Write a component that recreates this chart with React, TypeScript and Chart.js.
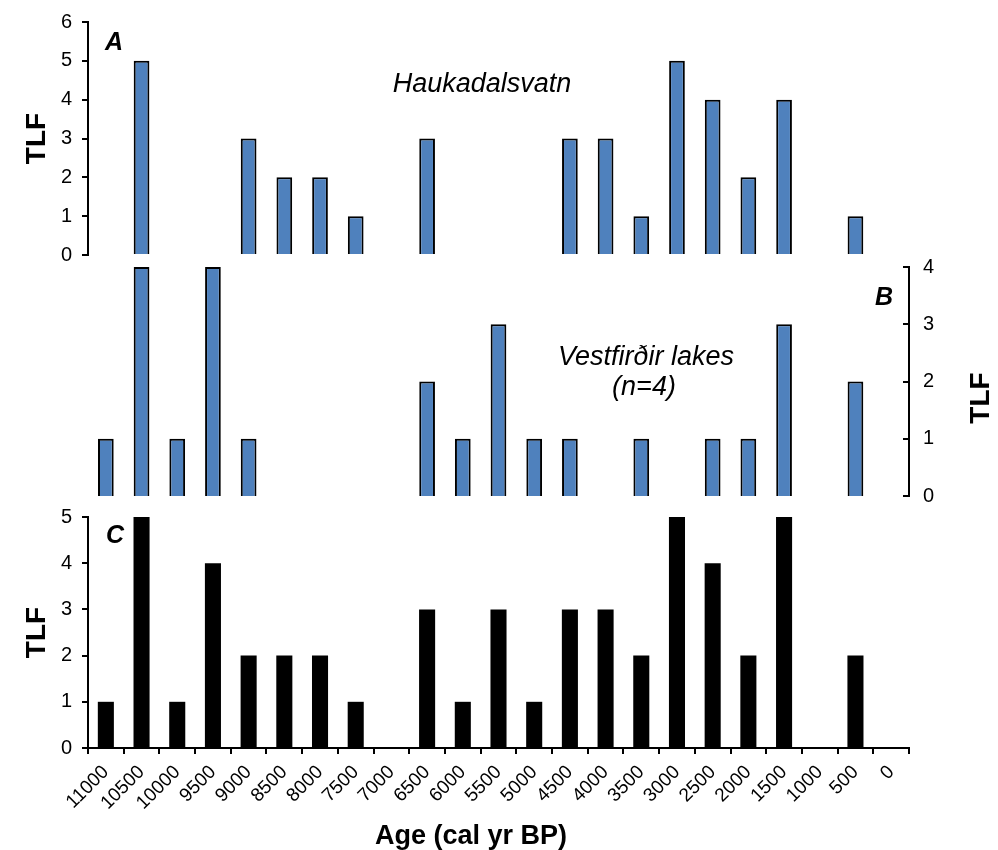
import React, { useEffect, useRef } from "react";
import { Chart, registerables } from "chart.js";

Chart.register(...registerables);

// ---------- data ----------
const ageLabels = [
  "11000", "10500", "10000", "9500", "9000", "8500", "8000", "7500", "7000",
  "6500", "6000", "5500", "5000", "4500", "4000", "3500", "3000", "2500",
  "2000", "1500", "1000", "500", "0",
];
const haukadalsvatnTLF = [0, 5, 0, 0, 3, 2, 2, 1, 0, 3, 0, 0, 0, 3, 3, 1, 5, 4, 2, 4, 0, 1, 0];
const vestfirdirTLF = [1, 4, 1, 4, 1, 0, 0, 0, 0, 2, 1, 3, 1, 1, 0, 1, 0, 1, 1, 3, 0, 2, 0];
const combinedTLF = [1, 5, 1, 4, 2, 2, 2, 1, 0, 3, 1, 3, 1, 3, 3, 2, 5, 4, 2, 5, 0, 2, 0];

const yTicksA = { min: 0, max: 6 };
const yTicksB = { min: 0, max: 4 };
const yTicksC = { min: 0, max: 5 };

const labelA = "A";
const labelB = "B";
const labelC = "C";
const titleA = "Haukadalsvatn";
const titleB = ["Vestfirðir lakes", "(n=4)"];
const yTitle = "TLF";
const xTitle = "Age (cal yr BP)";

// ---------- styles ----------
const FONT = "'Liberation Sans', Arial, Helvetica, sans-serif";
const BLUE = "#4F81BD";
const W = 998;
const LEFT = 88;
const RIGHT = 909;

const toBars = (v: number[]) => v.map((x) => (x === 0 ? null : x));

function leftY(range: { min: number; max: number }) {
  return {
    position: "left",
    min: range.min,
    max: range.max,
    ticks: { stepSize: 1, color: "#000", font: { family: FONT, size: 20 }, padding: 10 },
    grid: { drawOnChartArea: false, drawTicks: true, tickLength: 6, color: "#000", lineWidth: 2 },
    border: { display: true, color: "#000", width: 2 },
    title: {
      display: true,
      text: yTitle,
      color: "#000",
      font: { family: FONT, size: 28, weight: "bold" },
      padding: { top: 20, bottom: 0 },
    },
    afterFit: (s: any) => {
      s.width = LEFT;
    },
  };
}

function textPlugin(id: string, draw: (chart: any, ctx: CanvasRenderingContext2D) => void) {
  return {
    id,
    afterDraw(chart: any) {
      const ctx = chart.ctx as CanvasRenderingContext2D;
      ctx.save();
      draw(chart, ctx);
      ctx.restore();
    },
  };
}

function configA(): any {
  return {
    type: "bar",
    data: {
      labels: ageLabels,
      datasets: [
        {
          data: toBars(haukadalsvatnTLF),
          backgroundColor: BLUE,
          borderColor: "#000",
          borderWidth: 2,
          barPercentage: 0.44,
          categoryPercentage: 1,
        },
      ],
    },
    options: {
      animation: false,
      responsive: false,
      devicePixelRatio: 1,
      layout: { padding: { left: 0, right: W - RIGHT, top: 21, bottom: 16 } },
      plugins: { legend: { display: false }, tooltip: { enabled: false } },
      scales: {
        x: { display: false, offset: true },
        y: leftY(yTicksA),
      },
    },
    plugins: [
      textPlugin("annA", (chart, ctx) => {
        const a = chart.chartArea;
        ctx.fillStyle = "#000";
        ctx.textBaseline = "middle";
        ctx.textAlign = "left";
        ctx.font = `italic bold 25px ${FONT}`;
        ctx.fillText(labelA, a.left + 17, a.top + 21);
        ctx.textAlign = "center";
        ctx.font = `italic 27px ${FONT}`;
        ctx.fillText(titleA, 482, a.top + 62);
      }),
    ],
  };
}

function configB(): any {
  return {
    type: "bar",
    data: {
      labels: ageLabels,
      datasets: [
        {
          data: toBars(vestfirdirTLF),
          backgroundColor: BLUE,
          borderColor: "#000",
          borderWidth: 2,
          barPercentage: 0.44,
          categoryPercentage: 1,
        },
      ],
    },
    options: {
      animation: false,
      responsive: false,
      devicePixelRatio: 1,
      layout: { padding: { left: LEFT, right: 0, top: 17, bottom: 16 } },
      plugins: { legend: { display: false }, tooltip: { enabled: false } },
      scales: {
        x: { display: false, offset: true },
        y: {
          position: "right",
          min: yTicksB.min,
          max: yTicksB.max,
          ticks: { stepSize: 1, color: "#000", font: { family: FONT, size: 20 }, padding: 14 },
          grid: { display: false, drawTicks: false },
          border: { display: true, color: "#000", width: 2 },
          afterFit: (s: any) => {
            s.width = W - RIGHT;
          },
        },
      },
    },
    plugins: [
      textPlugin("annB", (chart, ctx) => {
        const a = chart.chartArea;
        const ys = chart.scales.y;
        // inward tick marks
        ctx.strokeStyle = "#000";
        ctx.lineWidth = 2;
        ys.ticks.forEach((t: any) => {
          const y = Math.round(ys.getPixelForValue(t.value));
          ctx.beginPath();
          ctx.moveTo(a.right - 6, y);
          ctx.lineTo(a.right, y);
          ctx.stroke();
        });
        ctx.fillStyle = "#000";
        ctx.textBaseline = "middle";
        ctx.textAlign = "center";
        ctx.font = `italic bold 25px ${FONT}`;
        ctx.fillText(labelB, a.right - 25, a.top + 31);
        ctx.font = `italic 27px ${FONT}`;
        ctx.fillText(titleB[0], 646, a.top + 90);
        ctx.fillText(titleB[1], 644, a.top + 120);
        ctx.font = `bold 28px ${FONT}`;
        ctx.translate(981, a.top + 131);
        ctx.rotate(-Math.PI / 2);
        ctx.fillText(yTitle, 0, 0);
      }),
    ],
  };
}

function configC(): any {
  return {
    type: "bar",
    data: {
      labels: ageLabels,
      datasets: [
        {
          data: toBars(combinedTLF),
          backgroundColor: "#000",
          borderColor: "#000",
          borderWidth: 0,
          barPercentage: 0.45,
          categoryPercentage: 1,
        },
      ],
    },
    options: {
      animation: false,
      responsive: false,
      devicePixelRatio: 1,
      layout: { padding: { left: 0, right: W - RIGHT, top: 20, bottom: 0 } },
      plugins: { legend: { display: false }, tooltip: { enabled: false } },
      scales: {
        x: {
          offset: true,
          ticks: {
            autoSkip: false,
            minRotation: 45,
            maxRotation: 45,
            color: "#000",
            font: { family: FONT, size: 19 },
            padding: 7,
          },
          grid: {
            offset: true,
            drawOnChartArea: false,
            drawTicks: true,
            tickLength: 6,
            color: "#000",
            lineWidth: 2,
          },
          border: { display: true, color: "#000", width: 2 },
          title: { display: false, text: xTitle },
          afterFit: (s: any) => {
            s.height = 102;
          },
        },
        y: leftY(yTicksC),
      },
    },
    plugins: [
      textPlugin("annC", (chart, ctx) => {
        const a = chart.chartArea;
        ctx.fillStyle = "#000";
        ctx.textBaseline = "middle";
        ctx.textAlign = "left";
        ctx.font = `italic bold 25px ${FONT}`;
        ctx.fillText(labelC, a.left + 18, a.top + 19);
        ctx.textAlign = "center";
        ctx.textBaseline = "alphabetic";
        ctx.font = `bold 27px ${FONT}`;
        ctx.fillText(xTitle, 471, a.bottom + 96);
      }),
    ],
  };
}

function Panel({ top, height, make }: { top: number; height: number; make: () => any }) {
  const ref = useRef<HTMLCanvasElement | null>(null);
  useEffect(() => {
    if (!ref.current) return;
    const chart = new Chart(ref.current, make());
    return () => chart.destroy();
  }, [make]);
  return (
    <canvas
      ref={ref}
      width={W}
      height={height}
      style={{ position: "absolute", left: 0, top, width: W, height }}
    />
  );
}

export default function App() {
  return (
    <div
      style={{
        position: "absolute",
        left: 0,
        top: 0,
        width: W,
        height: 850,
        background: "#fff",
        overflow: "hidden",
      }}
    >
      <Panel top={0} height={277} make={configA} />
      <Panel top={241} height={281} make={configB} />
      <Panel top={495} height={355} make={configC} />
    </div>
  );
}
